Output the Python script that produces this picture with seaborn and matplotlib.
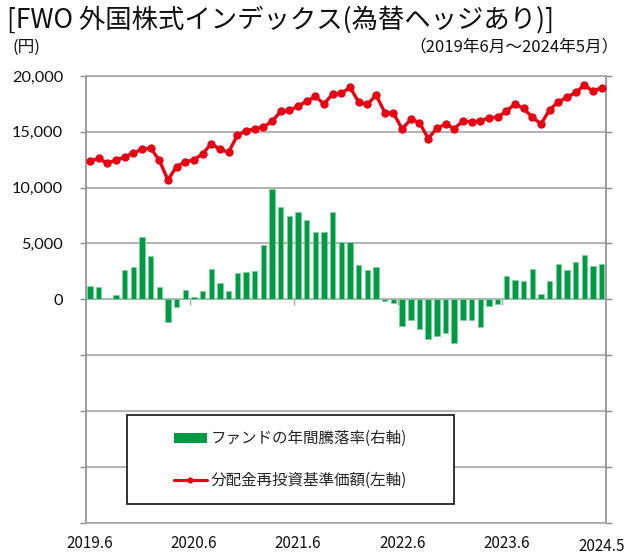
import matplotlib
matplotlib.use('Agg')
import matplotlib.pyplot as plt
import seaborn as sns
import pandas as pd
from matplotlib.patches import Patch, Rectangle
from matplotlib.lines import Line2D
from matplotlib.ticker import FuncFormatter

sns.set_theme(style='white')
plt.rcParams['font.family'] = ['Noto Sans CJK JP', 'DejaVu Sans']

# ---- data ----
months = pd.date_range('2019-06-01', periods=60, freq='MS').strftime('%Y.%m')
nav = [12370, 12610, 12190, 12460, 12730, 13120, 13420, 13540, 12460, 10690,
       11890, 12310, 12490, 13030, 13930, 13420, 13180, 14680, 15100, 15250,
       15430, 15940, 16820, 16910, 17300, 17750, 18170, 17480, 18410, 18440,
       18980, 17660, 17450, 18290, 16730, 16670, 15250, 16130, 15830, 14390,
       15320, 15680, 15290, 15950, 15890, 15980, 16250, 16310, 16850, 17480,
       17090, 16310, 15710, 16960, 17690, 18080, 18530, 19160, 18650, 18950]
ret = [6.0, 5.3, 0.1, 1.7, 13.2, 14.6, 27.9, 19.5, 5.4, -10.1,
       -3.5, 4.1, 1.1, 3.5, 13.7, 7.5, 3.5, 11.7, 12.2, 12.8,
       24.5, 49.4, 41.4, 37.5, 38.9, 35.7, 30.3, 30.3, 39.3, 25.7,
       25.8, 15.5, 12.9, 14.3, -0.75, -1.7, -12.0, -9.3, -13.2, -17.7,
       -16.5, -15.0, -19.5, -9.3, -9.2, -12.6, -2.9, -2.1, 10.4, 8.4,
       8.3, 13.4, 2.4, 8.0, 15.9, 13.2, 16.5, 19.8, 14.7, 15.9]
tick_idx = [0, 12, 24, 36, 48, 59]
tick_labels = ['2019.6', '2020.6', '2021.6', '2022.6', '2023.6', '2024.5']
left_ticks = list(range(-20000, 20001, 5000))
right_ticks = list(range(-100, 101, 25))

title = '[FWO 外国株式インデックス(為替ヘッジあり)]'
unit = '(円)'
period = '（2019年6月～2024年5月）'
lab_bar = 'ファンドの年間騰落率(右軸)'
lab_line = '分配金再投資基準価額(左軸)'

df = pd.DataFrame({'idx': range(60), 'month': months, 'nav': nav, 'ret': ret})

GREEN = '#009944'
RED = '#E60012'
GRID = '#A6A6A6'
AXC = '#8C8C8C'

fig = plt.figure(figsize=(6.28, 5.54), dpi=100)
fig.patch.set_facecolor('white')
W, H = 628, 554
x0, x1, y0, y1 = 85.5, 606, 76, 522.5
ax = fig.add_axes([x0 / W, 1 - y1 / H, (x1 - x0) / W, (y1 - y0) / H])
ax2 = ax.twinx()

# bars on right axis
sns.barplot(data=df, x='idx', y='ret', ax=ax2, color=GREEN, saturation=1,
            width=0.62, errorbar=None, edgecolor='#7fcf9f', linewidth=0.6, zorder=2)
# line on left axis
sns.lineplot(data=df, x='idx', y='nav', ax=ax, color=RED, linewidth=2.4,
             marker='o', markersize=6.0, markeredgewidth=0, zorder=5)

ax.set_zorder(2)
ax.patch.set_visible(False)
ax2.set_zorder(1)
ax2.patch.set_visible(True)
ax2.patch.set_facecolor('white')

ax.set_xlim(-0.5, 59.5)
ax.set_ylim(-20000, 20000)
ax2.set_ylim(-100, 100)

ax.set_yticks(left_ticks)
ax.yaxis.set_major_formatter(FuncFormatter(lambda v, p: f'{int(v):,}' if v >= 0 else ''))
ax2.set_yticks(right_ticks)
ax2.set_yticklabels([])
ax2.yaxis.grid(True, color=GRID, linewidth=1.2)
ax2.xaxis.grid(False)
ax2.set_axisbelow(True)
ax.grid(False)

ax.set_xticks(tick_idx)
ax.set_xticklabels(tick_labels)
ax.set_xlabel('')
ax.set_ylabel('')
ax2.set_xlabel('')
ax2.set_ylabel('')

ax.tick_params(axis='y', which='major', left=True, right=False, direction='out',
               length=4, width=1.0, color=AXC, pad=12, labelsize=11.8,
               labelcolor='#111111')
for t in ax.get_yticklabels():
    t.set_fontfamily(['Lato', 'DejaVu Sans'])
ax2.tick_params(axis='y', which='major', right=True, left=False, direction='out',
                length=4, width=1.0, color=AXC)
ax.tick_params(axis='x', length=0, pad=9, labelsize=11, labelcolor='#111111')
ax2.tick_params(axis='x', length=0, labelbottom=False)
labs = ax.get_xticklabels()
labs[-1].set_y(-0.007)

for s in ax.spines.values():
    s.set_visible(True)
    s.set_color(AXC)
    s.set_linewidth(1.2)
ax.spines['top'].set_color(GRID)
ax.spines['bottom'].set_color(GRID)
for s in ax2.spines.values():
    s.set_visible(False)

# small yearly tick marks on the zero line (category axis crossing at 0)
sec = ax.secondary_xaxis(0.5)
sec.xaxis.set_ticks_position('bottom')
sec.set_xticks([i - 0.5 for i in tick_idx[1:-1]])
sec.tick_params(axis='x', direction='out', length=4, width=1.0, color=GRID,
                labelbottom=False, labeltop=False, top=False, bottom=True)
for s in sec.spines.values():
    s.set_visible(False)

# titles
fig.text(7 / W, 1 - 20 / H, title, fontsize=19, ha='left', va='center', color='#111111')
fig.text(13 / W, 1 - 47 / H, unit, fontsize=12, ha='left', va='center', color='#111111')
fig.text(619 / W, 1 - 47 / H, period, fontsize=12, ha='right', va='center', color='#111111')

# legend box
bx0, bx1, by0, by1 = 127, 454, 415, 504
rect = Rectangle((bx0 / W, 1 - by1 / H), (bx1 - bx0) / W, (by1 - by0) / H,
                 transform=fig.transFigure, facecolor='white', edgecolor='#222222',
                 linewidth=1.3, zorder=5)
fig.add_artist(rect)
handles = [Patch(facecolor=GREEN, edgecolor='none'),
           Line2D([0], [0], color=RED, linewidth=2.2, marker='o', markersize=4.5,
                  markeredgewidth=0)]
leg = fig.legend(handles, [lab_bar, lab_line], loc='center',
                 bbox_to_anchor=((bx0 + bx1) / 2 / W, 1 - (by0 + by1) / 2 / H),
                 bbox_transform=fig.transFigure, frameon=False, fontsize=11.2,
                 handlelength=2.1, handleheight=0.62, handletextpad=0.25,
                 labelspacing=1.6, numpoints=1, borderpad=0.2)
leg.set_zorder(6)

fig.savefig('out.png', dpi=100, facecolor='white')
